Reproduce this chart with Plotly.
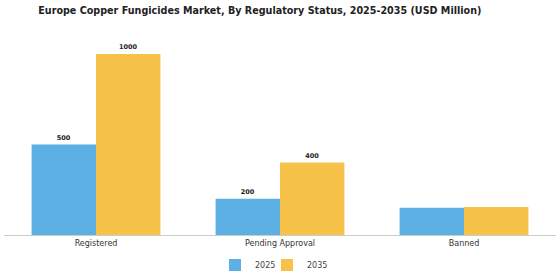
import plotly.graph_objects as go

categories = ["Registered", "Pending Approval", "Banned"]
years = ["2025", "2035"]
values_2025 = [500, 200, 150]
values_2035 = [1000, 400, 155]
labels_2025 = ["500", "200", ""]
labels_2035 = ["1000", "400", ""]
colors = ["#5DB0E4", "#F6C24A"]

fig = go.Figure()
for name, vals, labs, col, lg in [(years[0], values_2025, labels_2025, colors[0], "legend"),
                                  (years[1], values_2035, labels_2035, colors[1], "legend2")]:
    fig.add_trace(go.Bar(
        name=name, x=categories, y=vals, text=labs, textposition="outside",
        textfont=dict(family="DejaVu Sans", size=6.5, color="#222"),
        texttemplate="<b>%{text}</b>", cliponaxis=False,
        marker=dict(color=col, line=dict(width=0)), legend=lg,
    ))

leg_common = dict(orientation="h", xanchor="left", xref="container",
                  y=0.054, yanchor="middle", yref="container",
                  font=dict(size=8, color="#444"), bgcolor="rgba(0,0,0,0)")

fig.update_layout(
    width=560, height=280,
    margin=dict(l=4, r=4, t=35, b=45, autoexpand=False),
    paper_bgcolor="white", plot_bgcolor="white",
    barmode="group", bargap=0.3, bargroupgap=0,
    title=dict(text="<b>Europe Copper Fungicides Market, By Regulatory Status, 2025-2035 (USD Million)</b>",
               x=0.464, xanchor="center", y=0.962, yanchor="middle",
               font=dict(family="DejaVu Sans", size=9.6, color="#222")),
    font=dict(family="DejaVu Sans", size=8, color="#333"),
    showlegend=True,
    legend=dict(x=(257 - 42) / 560, **leg_common),
    legend2=dict(x=(309 - 42) / 560, **leg_common),
    xaxis=dict(showline=True, linecolor="#ccc", linewidth=1, ticks="", showgrid=False,
               tickfont=dict(size=8, color="#333")),
    yaxis=dict(visible=False, range=[0, 1105], showgrid=False, zeroline=False),
)

fig.write_html("out.html")
